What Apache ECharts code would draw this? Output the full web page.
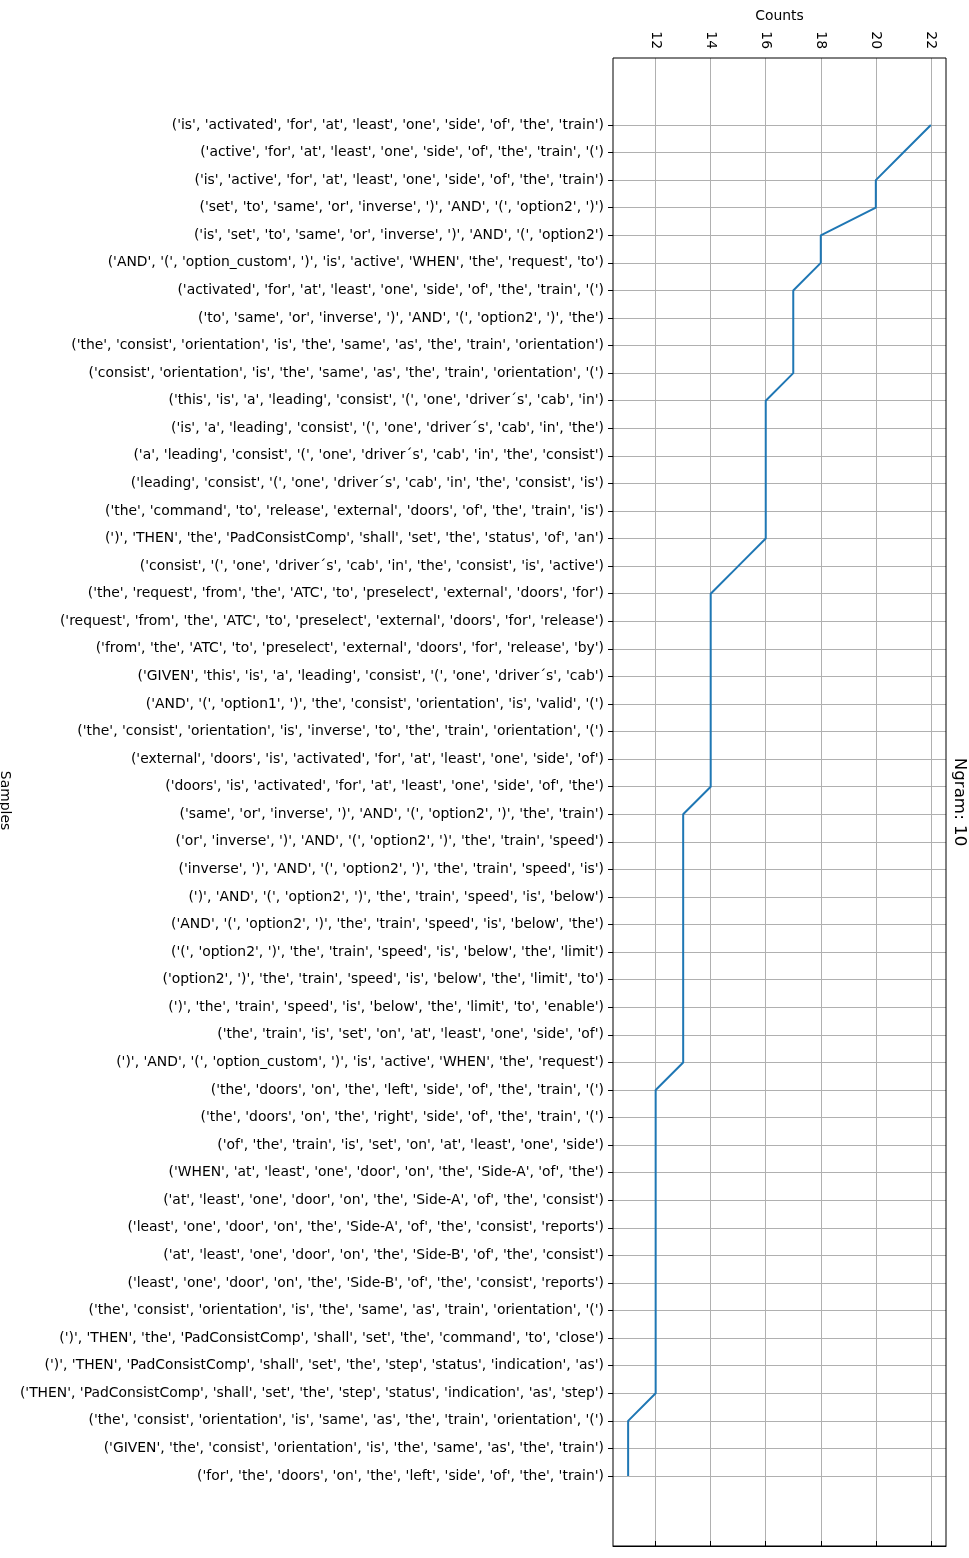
<!DOCTYPE html>
<html>
<head>
<meta charset="utf-8">
<script src="https://cdn.jsdelivr.net/npm/echarts@6/dist/echarts.min.js"></script>
<style>
html,body{margin:0;padding:0;background:#fff;}
#chart{width:969px;height:1558px;}
</style>
</head>
<body>
<div id="chart"></div>
<script>
const samples = [
"('is', 'activated', 'for', 'at', 'least', 'one', 'side', 'of', 'the', 'train')",
"('active', 'for', 'at', 'least', 'one', 'side', 'of', 'the', 'train', '(')",
"('is', 'active', 'for', 'at', 'least', 'one', 'side', 'of', 'the', 'train')",
"('set', 'to', 'same', 'or', 'inverse', ')', 'AND', '(', 'option2', ')')",
"('is', 'set', 'to', 'same', 'or', 'inverse', ')', 'AND', '(', 'option2')",
"('AND', '(', 'option_custom', ')', 'is', 'active', 'WHEN', 'the', 'request', 'to')",
"('activated', 'for', 'at', 'least', 'one', 'side', 'of', 'the', 'train', '(')",
"('to', 'same', 'or', 'inverse', ')', 'AND', '(', 'option2', ')', 'the')",
"('the', 'consist', 'orientation', 'is', 'the', 'same', 'as', 'the', 'train', 'orientation')",
"('consist', 'orientation', 'is', 'the', 'same', 'as', 'the', 'train', 'orientation', '(')",
"('this', 'is', 'a', 'leading', 'consist', '(', 'one', 'driver\u00b4s', 'cab', 'in')",
"('is', 'a', 'leading', 'consist', '(', 'one', 'driver\u00b4s', 'cab', 'in', 'the')",
"('a', 'leading', 'consist', '(', 'one', 'driver\u00b4s', 'cab', 'in', 'the', 'consist')",
"('leading', 'consist', '(', 'one', 'driver\u00b4s', 'cab', 'in', 'the', 'consist', 'is')",
"('the', 'command', 'to', 'release', 'external', 'doors', 'of', 'the', 'train', 'is')",
"(')', 'THEN', 'the', 'PadConsistComp', 'shall', 'set', 'the', 'status', 'of', 'an')",
"('consist', '(', 'one', 'driver\u00b4s', 'cab', 'in', 'the', 'consist', 'is', 'active')",
"('the', 'request', 'from', 'the', 'ATC', 'to', 'preselect', 'external', 'doors', 'for')",
"('request', 'from', 'the', 'ATC', 'to', 'preselect', 'external', 'doors', 'for', 'release')",
"('from', 'the', 'ATC', 'to', 'preselect', 'external', 'doors', 'for', 'release', 'by')",
"('GIVEN', 'this', 'is', 'a', 'leading', 'consist', '(', 'one', 'driver\u00b4s', 'cab')",
"('AND', '(', 'option1', ')', 'the', 'consist', 'orientation', 'is', 'valid', '(')",
"('the', 'consist', 'orientation', 'is', 'inverse', 'to', 'the', 'train', 'orientation', '(')",
"('external', 'doors', 'is', 'activated', 'for', 'at', 'least', 'one', 'side', 'of')",
"('doors', 'is', 'activated', 'for', 'at', 'least', 'one', 'side', 'of', 'the')",
"('same', 'or', 'inverse', ')', 'AND', '(', 'option2', ')', 'the', 'train')",
"('or', 'inverse', ')', 'AND', '(', 'option2', ')', 'the', 'train', 'speed')",
"('inverse', ')', 'AND', '(', 'option2', ')', 'the', 'train', 'speed', 'is')",
"(')', 'AND', '(', 'option2', ')', 'the', 'train', 'speed', 'is', 'below')",
"('AND', '(', 'option2', ')', 'the', 'train', 'speed', 'is', 'below', 'the')",
"('(', 'option2', ')', 'the', 'train', 'speed', 'is', 'below', 'the', 'limit')",
"('option2', ')', 'the', 'train', 'speed', 'is', 'below', 'the', 'limit', 'to')",
"(')', 'the', 'train', 'speed', 'is', 'below', 'the', 'limit', 'to', 'enable')",
"('the', 'train', 'is', 'set', 'on', 'at', 'least', 'one', 'side', 'of')",
"(')', 'AND', '(', 'option_custom', ')', 'is', 'active', 'WHEN', 'the', 'request')",
"('the', 'doors', 'on', 'the', 'left', 'side', 'of', 'the', 'train', '(')",
"('the', 'doors', 'on', 'the', 'right', 'side', 'of', 'the', 'train', '(')",
"('of', 'the', 'train', 'is', 'set', 'on', 'at', 'least', 'one', 'side')",
"('WHEN', 'at', 'least', 'one', 'door', 'on', 'the', 'Side-A', 'of', 'the')",
"('at', 'least', 'one', 'door', 'on', 'the', 'Side-A', 'of', 'the', 'consist')",
"('least', 'one', 'door', 'on', 'the', 'Side-A', 'of', 'the', 'consist', 'reports')",
"('at', 'least', 'one', 'door', 'on', 'the', 'Side-B', 'of', 'the', 'consist')",
"('least', 'one', 'door', 'on', 'the', 'Side-B', 'of', 'the', 'consist', 'reports')",
"('the', 'consist', 'orientation', 'is', 'the', 'same', 'as', 'train', 'orientation', '(')",
"(')', 'THEN', 'the', 'PadConsistComp', 'shall', 'set', 'the', 'command', 'to', 'close')",
"(')', 'THEN', 'PadConsistComp', 'shall', 'set', 'the', 'step', 'status', 'indication', 'as')",
"('THEN', 'PadConsistComp', 'shall', 'set', 'the', 'step', 'status', 'indication', 'as', 'step')",
"('the', 'consist', 'orientation', 'is', 'same', 'as', 'the', 'train', 'orientation', '(')",
"('GIVEN', 'the', 'consist', 'orientation', 'is', 'the', 'same', 'as', 'the', 'train')",
"('for', 'the', 'doors', 'on', 'the', 'left', 'side', 'of', 'the', 'train')"
];
const counts = [22,21,20,20,18,18,17,17,17,17,16,16,16,16,16,16,15,14,14,14,14,14,14,14,14,13,13,13,13,13,13,13,13,13,13,12,12,12,12,12,12,12,12,12,12,12,12,11,11,11];
const countTicks = [12,14,16,18,20,22];
const xMin = 10.45, xMax = 22.55;

const FONT = 'DejaVu Sans';
const chart = echarts.init(document.getElementById('chart'), null, {renderer:'canvas'});
chart.setOption({
  animation:false,
  backgroundColor:'#fff',
  textStyle:{fontFamily:FONT},
  grid:[
    {left:613, top:58, width:333, height:1488, show:true, borderColor:'#000', borderWidth:1,
     backgroundColor:'transparent', z:3, containLabel:false, outerBoundsMode:'none'},
    {left:613, top:125, width:333, height:1351, containLabel:false, outerBoundsMode:'none'}
  ],
  xAxis:[
    {type:'value', gridIndex:0, position:'top', min:xMin, max:xMax,
     name:'Counts', nameLocation:'middle', nameGap:33,
     nameTextStyle:{fontFamily:FONT, fontSize:13.9, color:'#000'},
     axisLine:{show:true, lineStyle:{color:'#000', width:1}},
     axisTick:{show:true, length:5, lineStyle:{color:'#000', width:1},
       customValues: countTicks},
     axisLabel:{show:true, rotate:-90, margin:9, fontFamily:FONT, fontSize:13.9, color:'#000',
       customValues: countTicks},
     splitLine:{show:true, lineStyle:{color:'#b0b0b0', width:1}}
    },
    {type:'value', gridIndex:1, min:xMin, max:xMax, show:false}
  ],
  yAxis:[
    {type:'value', gridIndex:0, position:'right', min:0, max:1,
     name:'Ngram: 10', nameLocation:'middle', nameRotate:-90, nameGap:5,
     nameTextStyle:{fontFamily:FONT, fontSize:16.7, color:'#000'},
     axisLine:{show:false}, axisTick:{show:false}, axisLabel:{show:false}, splitLine:{show:false}},
    {type:'category', gridIndex:1, inverse:true, boundaryGap:false, data:samples,
     name:'Samples', nameLocation:'middle', nameRotate:-90, nameGap:601,
     nameTextStyle:{fontFamily:FONT, fontSize:13.9, color:'#000'},
     axisLine:{show:false},
     axisTick:{show:true, length:5, interval:0, lineStyle:{color:'#000', width:1}},
     axisLabel:{show:true, interval:0, margin:9, fontFamily:FONT, fontSize:13.9, color:'#000'},
     splitLine:{show:true, interval:0, lineStyle:{color:'#b0b0b0', width:1}}
    }
  ],
  series:[
    {type:'line', xAxisIndex:1, yAxisIndex:1, data:counts.map((c,i)=>[c, samples[i]]),
     showSymbol:false, symbol:'none', lineStyle:{color:'#1f77b4', width:2}, z:5}
  ]
});
</script>
</body>
</html>
